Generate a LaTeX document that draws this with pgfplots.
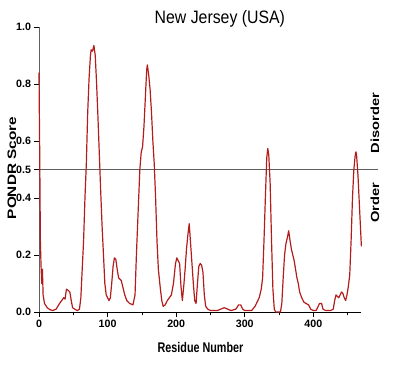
\documentclass[border=0pt]{standalone}
\usepackage{graphicx}
\usepackage{fontspec}
\setmainfont{Liberation Sans}
\usepackage{pgfplots}
\pgfplotsset{compat=1.18}
\definecolor{curve}{RGB}{180,28,28}
\definecolor{refline}{RGB}{95,95,95}
\begin{document}
\begin{tikzpicture}
\path[use as bounding box] (0,0) rectangle (295.5pt,277.5pt);
\begin{axis}[
  at={(29.25pt,43.5pt)}, anchor=south west,
  scale only axis, width=241.8pt, height=213.75pt,
  xmin=0, xmax=470, ymin=0, ymax=1,
  clip=false,
  axis x line*=bottom, axis y line*=left,
  axis line style={-, line width=0.6pt},
  y axis line style={refline},
  xtick={0,100,200,300,400},
  minor xtick={50,150,250,350,450},
  ytick={0,0.2,0.4,0.5,0.6,0.8,1.0},
  yticklabel style={/pgf/number format/fixed, /pgf/number format/fixed zerofill, /pgf/number format/precision=1, xshift=1pt},
  tick align=outside,
  major tick length=3.5pt, minor tick length=2.5pt,
  tick style={black, line width=0.5pt},
  /pgf/number format/assume math mode=true,
  ticklabel style={font=\fontsize{8}{9}\selectfont\bfseries},
  xticklabel style={yshift=1pt},
  xlabel={\scalebox{0.77}[1]{\fontsize{10.5}{12}\selectfont\bfseries Residue Number}},
  xlabel style={at={(rel axis cs:0.501,-0.143)}, anchor=base},
  ylabel={\scalebox{1}[0.8]{\fontsize{11.5}{13}\selectfont\bfseries PONDR Score}},
  ylabel style={at={(rel axis cs:-0.084,0.505)}, anchor=center, rotate=0},
]
\addplot[refline, line width=0.7pt, forget plot] coordinates {(0,0.5) (494,0.5)};
\addplot[curve, line width=0.9pt, line join=round] table {
x y
0 0.84
0.5 0.70
1 0.57
2 0.25
3 0.16
4 0.10
5 0.15
6 0.06
8 0.03
12 0.015
16 0.008
20 0.005
25 0.01
30 0.03
33 0.04
36 0.05
38 0.045
40 0.08
43 0.075
45 0.07
47 0.04
49 0.015
52 0.01
56 0.005
59 0.01
61 0.05
63 0.15
65 0.25
67 0.40
69 0.52
71 0.70
73 0.82
75 0.90
76 0.92
78 0.915
80 0.935
82 0.90
84 0.80
86 0.68
88 0.55
90 0.42
92 0.30
94 0.20
96 0.10
98 0.06
100 0.05
102 0.04
104 0.05
106 0.10
108 0.16
110 0.19
112 0.185
114 0.15
116 0.12
118 0.115
120 0.11
122 0.09
125 0.06
128 0.04
132 0.03
137 0.025
140 0.06
142 0.20
145 0.38
147 0.50
149 0.56
151 0.58
153 0.65
155 0.75
157 0.85
158 0.867
160 0.83
162 0.78
164 0.70
166 0.60
168 0.52
170 0.40
172 0.25
174 0.15
177 0.08
179 0.04
181 0.02
184 0.025
187 0.04
190 0.05
193 0.06
196 0.10
199 0.17
201 0.19
203 0.18
205 0.17
207 0.09
209 0.04
211 0.09
213 0.15
215 0.22
217 0.27
219 0.31
221 0.24
223 0.17
225 0.10
227 0.04
229 0.03
231 0.10
233 0.16
235 0.17
237 0.165
239 0.14
241 0.06
243 0.02
246 0.01
250 0.005
260 0.005
265 0.01
270 0.015
275 0.01
280 0.005
287 0.01
291 0.025
294 0.025
297 0.01
300 0.005
310 0.005
315 0.02
318 0.035
321 0.05
324 0.08
326 0.12
328 0.25
330 0.40
332 0.54
333.5 0.574
335 0.55
337 0.45
339 0.25
341 0.08
343 0.01
345 0.0
352 0.0
354 0.03
356 0.12
358 0.20
360 0.24
362 0.26
364 0.285
366 0.25
368 0.22
370 0.20
372 0.18
374 0.15
376 0.12
378 0.10
380 0.07
383 0.05
386 0.035
389 0.03
393 0.025
396 0.01
400 0.005
404 0.005
407 0.02
409 0.03
412 0.03
414 0.01
418 0.005
425 0.005
429 0.01
431 0.04
433 0.06
435 0.055
437 0.05
439 0.06
441 0.07
443 0.065
445 0.05
447 0.04
449 0.06
451 0.09
453 0.13
455 0.25
457 0.40
459 0.50
461 0.55
462 0.562
463 0.55
465 0.48
467 0.38
469 0.28
470 0.23
};
\node[anchor=base, inner sep=0pt] at (rel axis cs:0.561,1.013) {\scalebox{0.88}[1]{\fontsize{13.5}{15}\selectfont New Jersey (USA)}};
\node[rotate=90, anchor=center] at (rel axis cs:1.042,0.663) {\scalebox{1}[0.8]{\fontsize{11}{13}\selectfont\bfseries Disorder}};
\node[rotate=90, anchor=center] at (rel axis cs:1.042,0.384) {\scalebox{1}[0.8]{\fontsize{11}{13}\selectfont\bfseries Order}};
\end{axis}
\end{tikzpicture}
\end{document}
